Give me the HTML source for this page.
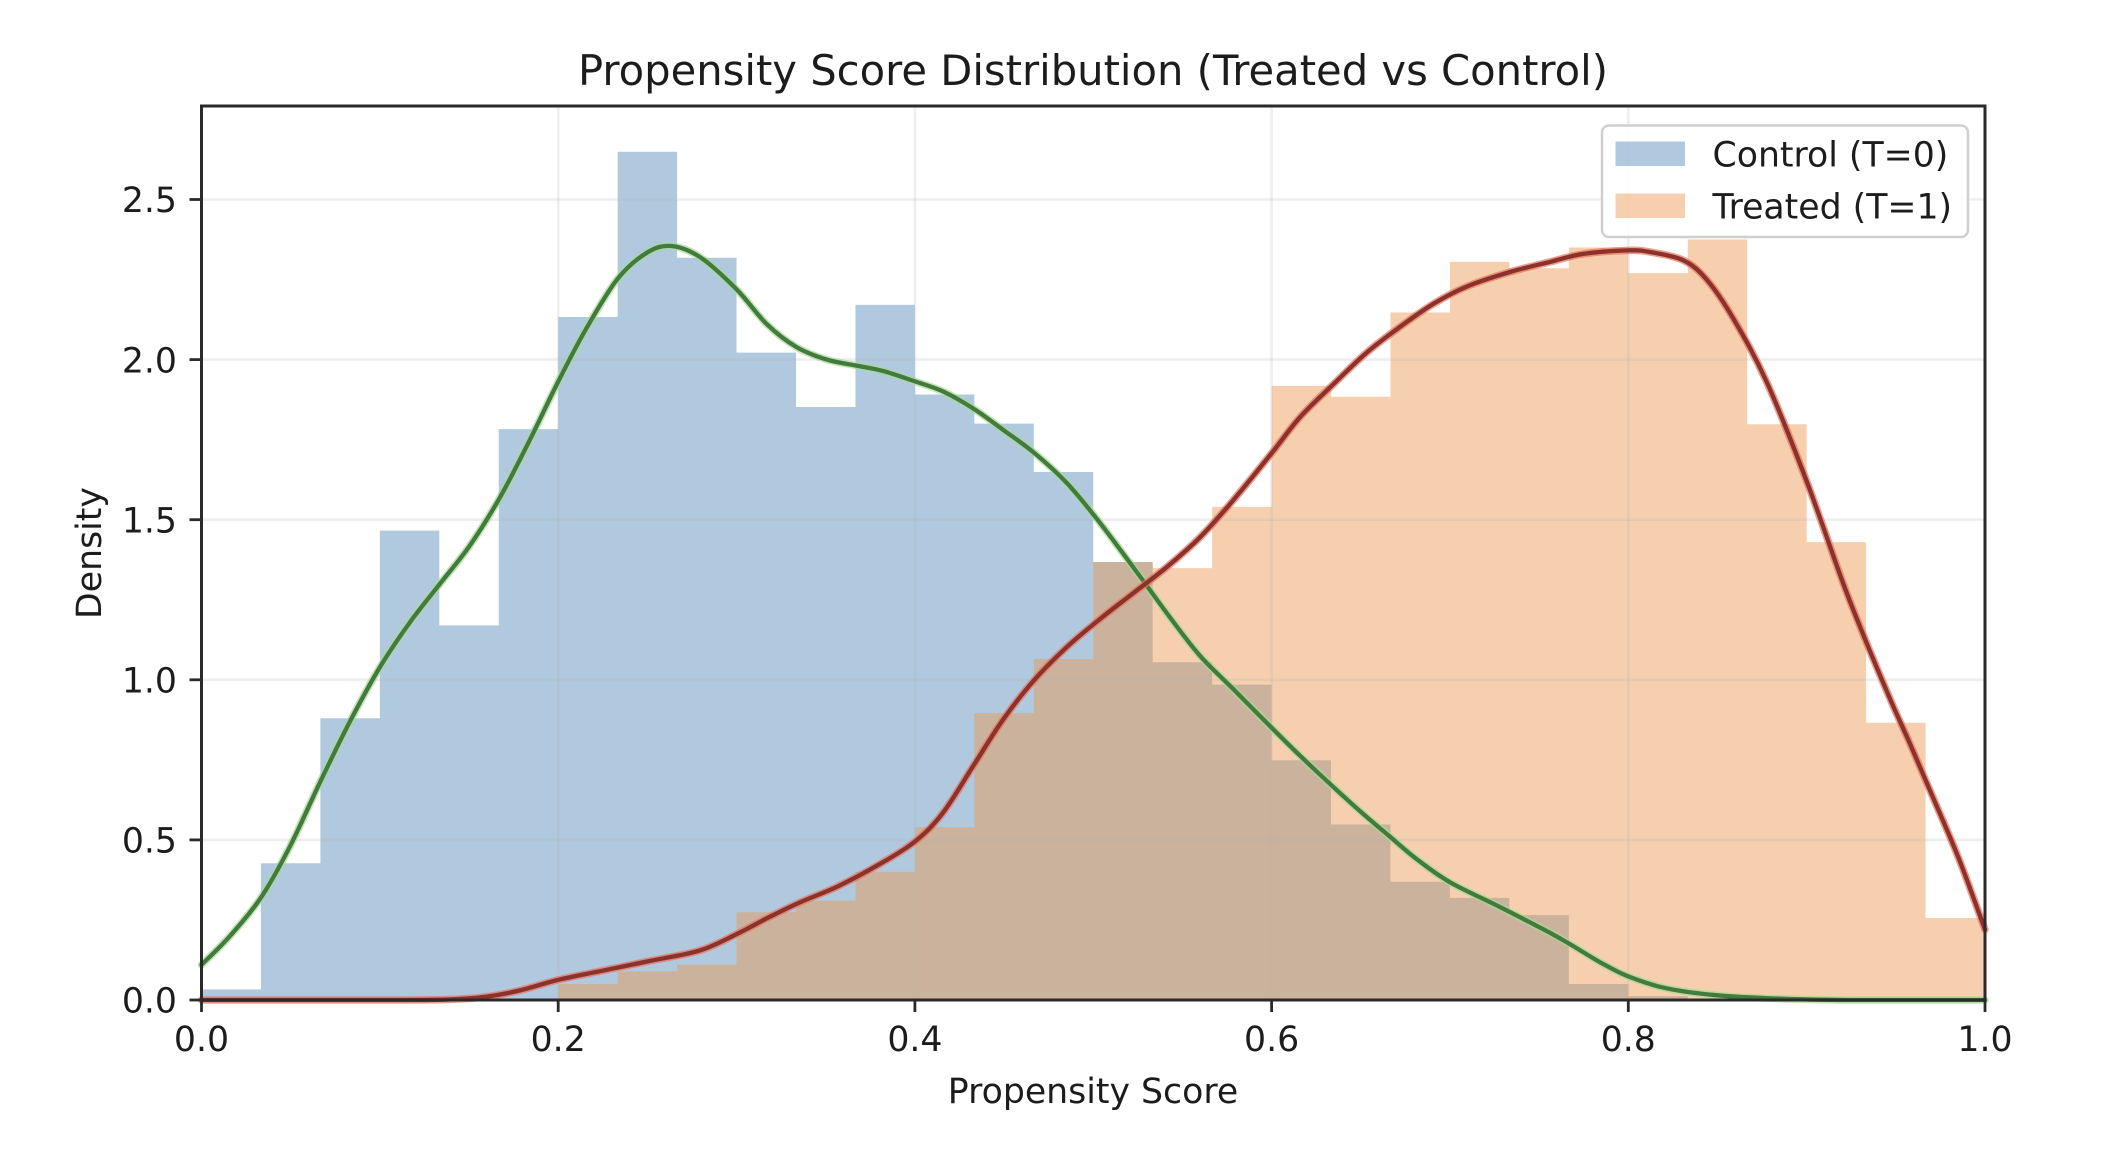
<!DOCTYPE html>
<html>
<head>
<meta charset="utf-8">
<style>
  html, body { margin: 0; padding: 0; background: #ffffff; }
  body { width: 2120px; height: 1150px; overflow: hidden; }
  svg { display: block; }
  text { font-family: "DejaVu Sans", "Liberation Sans", sans-serif; fill: #1c1c1c; }
</style>
</head>
<body>
<svg id="chart" width="2120" height="1150" viewBox="0 0 2120 1150">
  <rect x="0" y="0" width="2120" height="1150" fill="#ffffff"/>

  <!-- Title -->
  <text x="1093" y="85" font-size="41.7" text-anchor="middle">Propensity Score Distribution (Treated vs Control)</text>

  <!-- Histograms -->
  <path d="M201.5,1000 V989.4 H260.95 V863.3 H320.4 V718.2 H379.85 V530.6 H439.3 V625.4 H498.75 V429.1 H558.2 V317.0 H617.65 V151.8 H677.1 V257.8 H736.55 V352.6 H796 V407.0 H855.45 V304.9 H914.9 V394.5 H974.35 V423.6 H1033.8 V472.0 H1093.25 V562.0 H1152.7 V662.2 H1212.15 V684.6 H1271.6 V760.2 H1331.05 V824.5 H1390.5 V881.8 H1449.95 V897.9 H1509.4 V915.1 H1568.85 V984.0 H1628.3 V996.2 H1687.75 V1000 Z"
        fill="rgb(60,120,175)" fill-opacity="0.4"/>
  <path d="M558.2,1000 V984.0 H617.65 V971.2 H677.1 V964.8 H736.55 V912.3 H796 V900.7 H855.45 V871.9 H914.9 V827.1 H974.35 V713.1 H1033.8 V659.0 H1093.25 V562.0 H1152.7 V568.1 H1212.15 V506.9 H1271.6 V385.9 H1331.05 V396.7 H1390.5 V312.5 H1449.95 V261.9 H1509.4 V268.3 H1568.85 V247.5 H1628.3 V273.1 H1687.75 V239.5 H1747.2 V424.3 H1806.65 V542.1 H1866.1 V722.7 H1925.55 V918.0 H1985 V1000 Z"
        fill="rgb(235,150,75)" fill-opacity="0.45"/>

  <!-- Grid -->
  <g stroke="#b0b0b0" stroke-opacity="0.22" stroke-width="2.6">
    <line x1="201.5" y1="106" x2="201.5" y2="1000"/>
    <line x1="558.2" y1="106" x2="558.2" y2="1000"/>
    <line x1="914.9" y1="106" x2="914.9" y2="1000"/>
    <line x1="1271.6" y1="106" x2="1271.6" y2="1000"/>
    <line x1="1628.3" y1="106" x2="1628.3" y2="1000"/>
    <line x1="201.5" y1="1000" x2="1985" y2="1000"/>
    <line x1="201.5" y1="839.9" x2="1985" y2="839.9"/>
    <line x1="201.5" y1="679.8" x2="1985" y2="679.8"/>
    <line x1="201.5" y1="519.7" x2="1985" y2="519.7"/>
    <line x1="201.5" y1="359.6" x2="1985" y2="359.6"/>
    <line x1="201.5" y1="199.5" x2="1985" y2="199.5"/>
  </g>

  <!-- KDE curves -->
  <g fill="none" stroke-linejoin="round" stroke-linecap="round">
    <polyline class="smooth" stroke="#a6dc94" stroke-opacity="0.7" stroke-width="7.5"
      points="201.5,964.8 230,936.0 261,897.5 290,846.3 320,782.3 350,721.4 380,667.0 410,622.2 440,583.7 470,545.3 500,497.3 530,439.6 558,382.0 585,330.8 617,279.6 645,253.9 670,245.9 700,257.1 736.7,289.5 766.7,324.1 796,346.8 826.7,359.6 855.3,365.4 883.3,371.1 915,381.4 943.3,391.6 974.3,409.2 1003.3,430.0 1033.7,452.5 1066.7,482.9 1100,522.9 1140,576.4 1170,617.4 1200,655.8 1233,688.8 1271.7,727.8 1300,755.7 1331,784.8 1360,811.1 1390,836.7 1416.7,859.1 1450,882.2 1500,907.1 1550,932.8 1575,947.2 1600,962.2 1628,976.3 1666,988.2 1716,995.2 1780,998.7 1850,1000 1985,1000"/>
    <polyline class="smooth" stroke="#437a3e" stroke-width="4.3"
      points="201.5,964.8 230,936.0 261,897.5 290,846.3 320,782.3 350,721.4 380,667.0 410,622.2 440,583.7 470,545.3 500,497.3 530,439.6 558,382.0 585,330.8 617,279.6 645,253.9 670,245.9 700,257.1 736.7,289.5 766.7,324.1 796,346.8 826.7,359.6 855.3,365.4 883.3,371.1 915,381.4 943.3,391.6 974.3,409.2 1003.3,430.0 1033.7,452.5 1066.7,482.9 1100,522.9 1140,576.4 1170,617.4 1200,655.8 1233,688.8 1271.7,727.8 1300,755.7 1331,784.8 1360,811.1 1390,836.7 1416.7,859.1 1450,882.2 1500,907.1 1550,932.8 1575,947.2 1600,962.2 1628,976.3 1666,988.2 1716,995.2 1780,998.7 1850,1000 1985,1000"/>

    <polyline class="smooth" stroke="#e8735c" stroke-opacity="0.7" stroke-width="7.5"
      points="201.5,1000 400,1000 450,999.4 485.7,996.8 520,990.4 557,980.1 600,971.2 650,960.9 700,950.4 736,934.4 770,916.7 800,902.3 838,886.3 880,863.9 915,841.5 943,812.7 974,764.7 1003,719.8 1033,681.4 1066,647.8 1100,619.0 1133,593.3 1166,567.7 1200,537.3 1233,500.5 1271.7,453.1 1300,417.2 1333.3,384.3 1366.7,352.6 1400,326.9 1433.3,303.9 1466.7,286.6 1509.3,272.2 1550,261.9 1583.3,253.9 1628.3,250.4 1650,252.0 1683.3,260.3 1706.7,279.6 1733,318.0 1766.7,382.0 1806.7,481.3 1843.3,583.7 1866,641.4 1891.5,702.2 1910,743.8 1932,795.1 1959,859.1 1985,929.6"/>
    <polyline class="smooth" stroke="#8c322c" stroke-width="4.3"
      points="201.5,1000 400,1000 450,999.4 485.7,996.8 520,990.4 557,980.1 600,971.2 650,960.9 700,950.4 736,934.4 770,916.7 800,902.3 838,886.3 880,863.9 915,841.5 943,812.7 974,764.7 1003,719.8 1033,681.4 1066,647.8 1100,619.0 1133,593.3 1166,567.7 1200,537.3 1233,500.5 1271.7,453.1 1300,417.2 1333.3,384.3 1366.7,352.6 1400,326.9 1433.3,303.9 1466.7,286.6 1509.3,272.2 1550,261.9 1583.3,253.9 1628.3,250.4 1650,252.0 1683.3,260.3 1706.7,279.6 1733,318.0 1766.7,382.0 1806.7,481.3 1843.3,583.7 1866,641.4 1891.5,702.2 1910,743.8 1932,795.1 1959,859.1 1985,929.6"/>
  </g>

  <!-- Spines -->
  <rect x="201.5" y="106" width="1783.5" height="894" fill="none" stroke="#2a2a2a" stroke-width="3"/>

  <!-- Ticks -->
  <g stroke="#2a2a2a" stroke-width="2.8">
    <line x1="189.5" y1="1000" x2="201.5" y2="1000"/>
    <line x1="189.5" y1="839.9" x2="201.5" y2="839.9"/>
    <line x1="189.5" y1="679.8" x2="201.5" y2="679.8"/>
    <line x1="189.5" y1="519.7" x2="201.5" y2="519.7"/>
    <line x1="189.5" y1="359.6" x2="201.5" y2="359.6"/>
    <line x1="189.5" y1="199.5" x2="201.5" y2="199.5"/>
    <line x1="201.5" y1="1000" x2="201.5" y2="1012"/>
    <line x1="558.2" y1="1000" x2="558.2" y2="1012"/>
    <line x1="914.9" y1="1000" x2="914.9" y2="1012"/>
    <line x1="1271.6" y1="1000" x2="1271.6" y2="1012"/>
    <line x1="1628.3" y1="1000" x2="1628.3" y2="1012"/>
    <line x1="1985" y1="1000" x2="1985" y2="1012"/>
  </g>

  <!-- Y tick labels -->
  <g font-size="34.7" text-anchor="end">
    <text x="177" y="1012.7">0.0</text>
    <text x="177" y="852.6">0.5</text>
    <text x="177" y="692.5">1.0</text>
    <text x="177" y="532.4">1.5</text>
    <text x="177" y="372.3">2.0</text>
    <text x="177" y="212.2">2.5</text>
  </g>

  <!-- X tick labels -->
  <g font-size="34.7" text-anchor="middle">
    <text x="201.5" y="1051">0.0</text>
    <text x="558.2" y="1051">0.2</text>
    <text x="914.9" y="1051">0.4</text>
    <text x="1271.6" y="1051">0.6</text>
    <text x="1628.3" y="1051">0.8</text>
    <text x="1985" y="1051">1.0</text>
  </g>

  <!-- Axis labels -->
  <text x="1093" y="1103" font-size="34.7" text-anchor="middle">Propensity Score</text>
  <text x="0" y="0" font-size="34.7" text-anchor="middle" transform="translate(101,553) rotate(-90)">Density</text>

  <!-- Legend -->
  <rect x="1602" y="125.5" width="366" height="111.5" rx="7" ry="7" fill="#ffffff" fill-opacity="0.85" stroke="#cfcfcf" stroke-width="2.5"/>
  <rect x="1615.5" y="141.5" width="69.5" height="24.5" fill="rgb(60,120,175)" fill-opacity="0.4"/>
  <rect x="1615.5" y="193.5" width="69.5" height="24.5" fill="rgb(235,150,75)" fill-opacity="0.45"/>
  <text x="1712.5" y="166.5" font-size="34.7">Control (T=0)</text>
  <text x="1712.5" y="218.5" font-size="34.7">Treated (T=1)</text>
</svg>
<script>
(function(){
  var svg = document.getElementById('chart');
  var ns = svg.namespaceURI;
  var pls = svg.querySelectorAll('polyline.smooth');
  for (var k = 0; k < pls.length; k++) {
    var pl = pls[k];
    var raw = pl.getAttribute('points').trim().split(/\s+/);
    var pts = raw.map(function(s){ var a = s.split(','); return [parseFloat(a[0]), parseFloat(a[1])]; });
    var d = 'M' + pts[0][0] + ',' + pts[0][1];
    for (var i = 0; i < pts.length - 1; i++) {
      var p0 = pts[Math.max(i-1,0)], p1 = pts[i], p2 = pts[i+1], p3 = pts[Math.min(i+2, pts.length-1)];
      var c1x = p1[0] + (p2[0]-p0[0])/6, c1y = p1[1] + (p2[1]-p0[1])/6;
      var c2x = p2[0] - (p3[0]-p1[0])/6, c2y = p2[1] - (p3[1]-p1[1])/6;
      if (c1y > 1000) c1y = 1000; if (c2y > 1000) c2y = 1000;
      d += ' C' + c1x.toFixed(2) + ',' + c1y.toFixed(2) + ' ' + c2x.toFixed(2) + ',' + c2y.toFixed(2) + ' ' + p2[0] + ',' + p2[1];
    }
    var path = document.createElementNS(ns, 'path');
    for (var j = 0; j < pl.attributes.length; j++) {
      var at = pl.attributes[j];
      if (at.name !== 'points' && at.name !== 'class') path.setAttribute(at.name, at.value);
    }
    path.setAttribute('d', d);
    pl.parentNode.replaceChild(path, pl);
  }
})();
</script>
</body>
</html>
